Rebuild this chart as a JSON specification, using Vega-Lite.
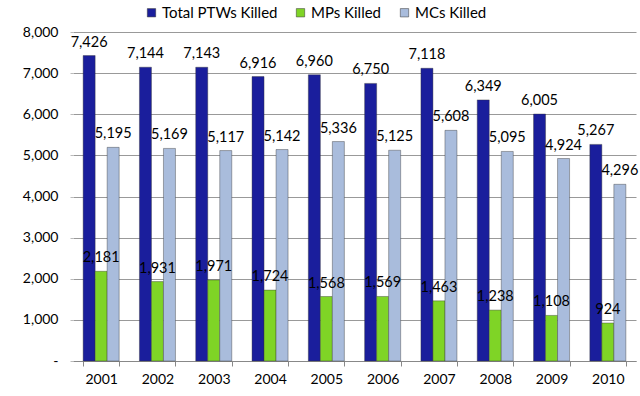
{
  "$schema": "https://vega.github.io/schema/vega-lite/v6.json",
  "width": 563,
  "height": 329,
  "autosize": {"type": "none"},
  "padding": {"left": 73, "top": 32, "right": 4, "bottom": 35},
  "background": "white",
  "config": {
    "font": "Lato",
    "view": {"stroke": null},
    "axis": {"labelFont": "Lato", "labelFontSize": 14, "labelColor": "#000"}
  },
  "data": {
    "values": [
      {"year": "2001", "series": "Total PTWs Killed", "value": 7426},
      {"year": "2002", "series": "Total PTWs Killed", "value": 7144},
      {"year": "2003", "series": "Total PTWs Killed", "value": 7143},
      {"year": "2004", "series": "Total PTWs Killed", "value": 6916},
      {"year": "2005", "series": "Total PTWs Killed", "value": 6960},
      {"year": "2006", "series": "Total PTWs Killed", "value": 6750},
      {"year": "2007", "series": "Total PTWs Killed", "value": 7118},
      {"year": "2008", "series": "Total PTWs Killed", "value": 6349},
      {"year": "2009", "series": "Total PTWs Killed", "value": 6005},
      {"year": "2010", "series": "Total PTWs Killed", "value": 5267},
      {"year": "2001", "series": "MPs Killed", "value": 2181},
      {"year": "2002", "series": "MPs Killed", "value": 1931},
      {"year": "2003", "series": "MPs Killed", "value": 1971},
      {"year": "2004", "series": "MPs Killed", "value": 1724},
      {"year": "2005", "series": "MPs Killed", "value": 1568},
      {"year": "2006", "series": "MPs Killed", "value": 1569},
      {"year": "2007", "series": "MPs Killed", "value": 1463},
      {"year": "2008", "series": "MPs Killed", "value": 1238},
      {"year": "2009", "series": "MPs Killed", "value": 1108},
      {"year": "2010", "series": "MPs Killed", "value": 924},
      {"year": "2001", "series": "MCs Killed", "value": 5195},
      {"year": "2002", "series": "MCs Killed", "value": 5169},
      {"year": "2003", "series": "MCs Killed", "value": 5117},
      {"year": "2004", "series": "MCs Killed", "value": 5142},
      {"year": "2005", "series": "MCs Killed", "value": 5336},
      {"year": "2006", "series": "MCs Killed", "value": 5125},
      {"year": "2007", "series": "MCs Killed", "value": 5608},
      {"year": "2008", "series": "MCs Killed", "value": 5095},
      {"year": "2009", "series": "MCs Killed", "value": 4924},
      {"year": "2010", "series": "MCs Killed", "value": 4296}
    ]
  },
  "encoding": {
    "x": {
      "field": "year", "type": "nominal", "title": null,
      "scale": {"paddingInner": 0.36, "paddingOuter": 0.18},
      "axis": {"labelAngle": 0, "domainColor": "#888", "tickColor": "#888", "tickBand": "extent", "tickSize": 5, "labelPadding": 6, "labelFontSize": 14}
    },
    "xOffset": {"field": "series", "type": "nominal", "sort": ["Total PTWs Killed", "MPs Killed", "MCs Killed"]},
    "y": {
      "field": "value", "type": "quantitative", "title": null,
      "scale": {"domain": [0, 8000]},
      "axis": {"values": [0, 1000, 2000, 3000, 4000, 5000, 6000, 7000, 8000], "labelExpr": "datum.value == 0 ? '-' : format(datum.value, ',')", "domain": false, "tickColor": "#bbb", "tickSize": 3, "labelPadding": 12, "gridColor": "#999", "gridWidth": 1}
    }
  },
  "layer": [
    {
      "mark": {"type": "bar", "stroke": "#333", "strokeWidth": 0.4},
      "encoding": {
        "color": {
          "field": "series", "type": "nominal",
          "sort": ["Total PTWs Killed", "MPs Killed", "MCs Killed"],
          "scale": {"domain": ["Total PTWs Killed", "MPs Killed", "MCs Killed"], "range": ["#1a1e9c", "#7fd426", "#a9bcdc"]},
          "legend": {
            "title": null, "orient": "none", "direction": "horizontal",
            "legendX": 71, "legendY": -27,
            "symbolType": "square", "symbolSize": 70, "symbolStrokeColor": "#333", "symbolStrokeWidth": 0.5,
            "labelFontSize": 15, "labelFont": "Lato", "labelColor": "#000", "labelOffset": 3, "columnPadding": 15
          }
        }
      }
    },
    {
      "mark": {"type": "text", "dy": -13, "fontSize": 14.5, "font": "Lato", "color": "#000"},
      "encoding": {
        "text": {"field": "value", "type": "quantitative", "format": ","}
      }
    }
  ]
}
